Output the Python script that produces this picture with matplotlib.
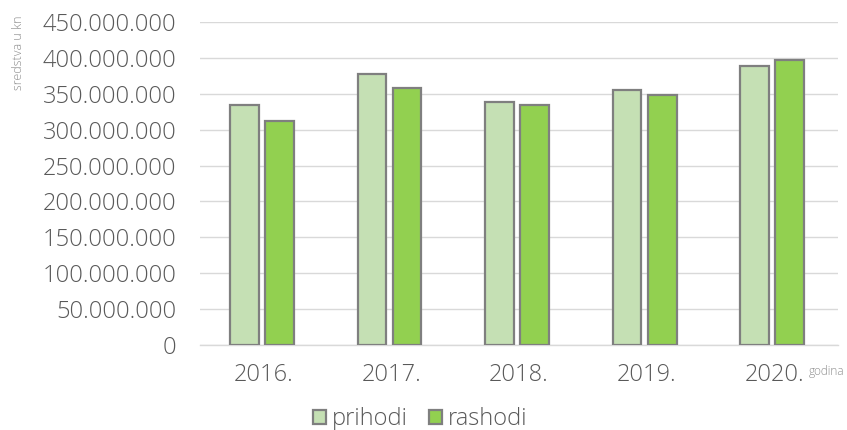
import matplotlib
matplotlib.use("Agg")
import matplotlib.pyplot as plt
import numpy as np
from matplotlib.ticker import FuncFormatter

years = ["2016.", "2017.", "2018.", "2019.", "2020."]
prihodi = [335e6, 377e6, 338.5e6, 355e6, 389e6]
rashodi = [311.5e6, 358e6, 335e6, 348e6, 397.5e6]
series_names = ["prihodi", "rashodi"]
yticks = np.arange(0, 450e6 + 1, 50e6)

plt.rcParams['font.family'] = ['Open Sans', 'DejaVu Sans']
plt.rcParams['font.weight'] = 'light'
fig = plt.figure(figsize=(8.47, 4.30), dpi=100)
ax = fig.add_axes([200/847, 1 - 345/430, 638/847, 323/430])

x = np.arange(len(years))
w = 0.225
gap = 0.05
c1, c2 = "#C5E0B4", "#92D050"
ec = "#7f7f7f"
b1 = ax.bar(x - (w + gap)/2 - 0.015, prihodi, w, color=c1, edgecolor=ec, linewidth=1.6, label=series_names[0], zorder=3)
b2 = ax.bar(x + (w + gap)/2 - 0.015, rashodi, w, color=c2, edgecolor=ec, linewidth=1.6, label=series_names[1], zorder=3)

ax.set_xlim(-0.5, 4.5)
ax.set_ylim(0, 450e6)
ax.set_yticks(yticks)
ax.yaxis.set_major_formatter(FuncFormatter(lambda v, p: f"{int(v):,}".replace(",", ".")))
ax.set_xticks(x)
ax.set_xticklabels(years)
ax.tick_params(axis='both', length=0, labelcolor="#595959")
ax.tick_params(axis='y', pad=17, labelsize=17)
ax.tick_params(axis='x', pad=13, labelsize=17)
ax.grid(axis='y', color="#d9d9d9", linewidth=1, zorder=0)
for s in ['top', 'right', 'left']:
    ax.spines[s].set_visible(False)
ax.spines['bottom'].set_color("#d9d9d9")
ax.spines['bottom'].set_linewidth(1)

fig.text(18/847, 1 - 53/430, "sredstva u kn", rotation=90, fontsize=9, color="#8c8c8c", ha='center', va='center')
fig.text(827/847, 1 - 372/430, "godina", fontsize=8.5, color="#8c8c8c", ha='center', va='center')

leg = fig.legend(handles=[b1, b2], labels=series_names, loc='center', bbox_to_anchor=(420/847, 1 - 419/430),
                 ncol=2, frameon=False, fontsize=17, labelcolor="#595959", handlelength=0.55, handleheight=0.55,
                 handletextpad=0.25, columnspacing=0.9)
fig.savefig("out.png", dpi=100)
